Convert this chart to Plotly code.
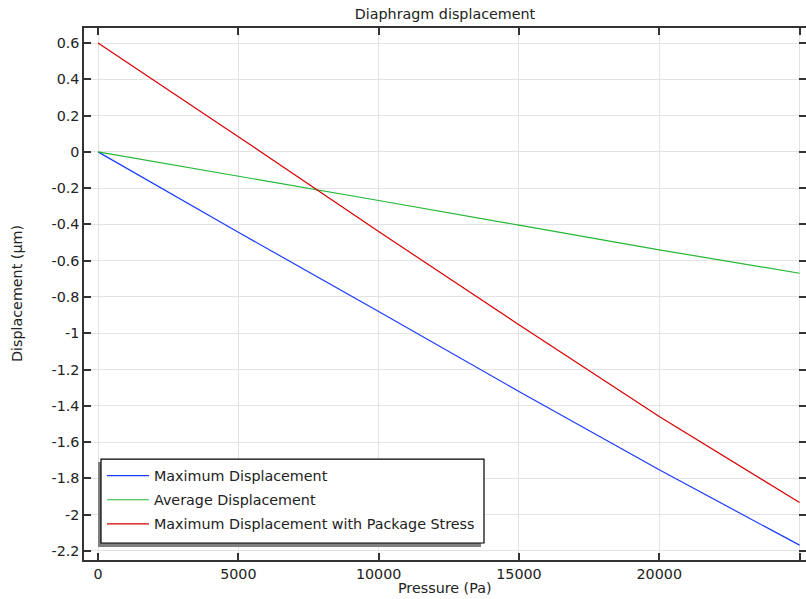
import plotly.graph_objects as go

pressure = [0, 5000, 10000, 15000, 20000, 25000]
max_disp = [0.0, -0.443, -0.880, -1.321, -1.753, -2.168]
avg_disp = [0.0, -0.132, -0.268, -0.404, -0.540, -0.669]
max_disp_pkg = [0.600, 0.084, -0.439, -0.953, -1.459, -1.933]

names = ["Maximum Displacement", "Average Displacement",
         "Maximum Displacement with Package Stress"]
colors = ["#1a3cff", "#22b833", "#d80000"]

x_tickvals = [0, 5000, 10000, 15000, 20000, 25000]
x_ticktext = ["0", "5000", "10000", "15000", "20000", ""]
y_tickvals = [0.6, 0.4, 0.2, 0, -0.2, -0.4, -0.6, -0.8, -1, -1.2, -1.4,
              -1.6, -1.8, -2, -2.2]
y_ticktext = ["0.6", "0.4", "0.2", "0", "-0.2", "-0.4", "-0.6", "-0.8", "-1",
              "-1.2", "-1.4", "-1.6", "-1.8", "-2", "-2.2"]

FONT = "DejaVu Sans"
FS = 14.3

fig = go.Figure()
for i, (ys, nm, c) in enumerate(zip([max_disp, avg_disp, max_disp_pkg], names, colors)):
    fig.add_trace(go.Scatter(x=pressure, y=ys, mode="lines", name=nm,
                             line=dict(color=c, width=1.2),
                             legendgroup=f"g{i}"))

axis_common = dict(
    showline=True, linecolor="#333333", linewidth=1.5,
    ticks="inside", ticklen=7, tickcolor="#333333", tickwidth=1.5,
    mirror="ticks", showgrid=True, gridcolor="#e3e3e3", gridwidth=1,
    zeroline=False, automargin=False,
    tickfont=dict(family=FONT, size=FS, color="#222222"),
)

fig.update_layout(
    width=806, height=599,
    margin=dict(l=84, r=0, t=28, b=39),
    paper_bgcolor="white", plot_bgcolor="white",
    font=dict(family=FONT, size=FS, color="#222222"),
    title=dict(text="Diaphragm displacement", xref="paper", x=0.5,
               xanchor="center", y=0.977, yanchor="middle",
               font=dict(family=FONT, size=FS)),
    xaxis=dict(range=[-500, 25230], tickvals=x_tickvals, ticktext=x_ticktext,
               **axis_common),
    yaxis=dict(range=[-2.25, 0.683], tickvals=y_tickvals, ticktext=y_ticktext,
               **axis_common),
    annotations=[
        dict(text="Pressure (Pa)", xref="paper", yref="paper", x=0.5, y=0,
             yshift=-28, xanchor="center", yanchor="middle", showarrow=False,
             font=dict(family=FONT, size=FS)),
        dict(text="Displacement (µm)", xref="paper", yref="paper", x=0, y=0.5,
             xshift=-67, xanchor="center", yanchor="middle", textangle=-90,
             showarrow=False, font=dict(family=FONT, size=FS)),
    ],
    showlegend=True,
    legend=dict(x=0.0235, y=0.036, xanchor="left", yanchor="bottom",
                bgcolor="rgba(0,0,0,0)", bordercolor="rgba(0,0,0,0)",
                borderwidth=1,
                font=dict(family=FONT, size=FS), tracegroupgap=2.5,
                itemwidth=42),
    shapes=[
        # legend drop shadow
        dict(type="rect", xref="paper", yref="paper",
             x0=0.0194, x1=0.5499, y0=0.0244, y1=0.1842,
             fillcolor="#808080", line=dict(width=0), layer="above"),
        # legend frame
        dict(type="rect", xref="paper", yref="paper",
             x0=0.02355, x1=0.554, y0=0.032, y1=0.1898,
             fillcolor="white", line=dict(color="black", width=1.2),
             layer="above"),
    ],
)

fig.write_html("out.html", config={"displayModeBar": False},
               post_script="document.body.style.margin='0';"
                           "document.body.style.overflow='hidden';")
